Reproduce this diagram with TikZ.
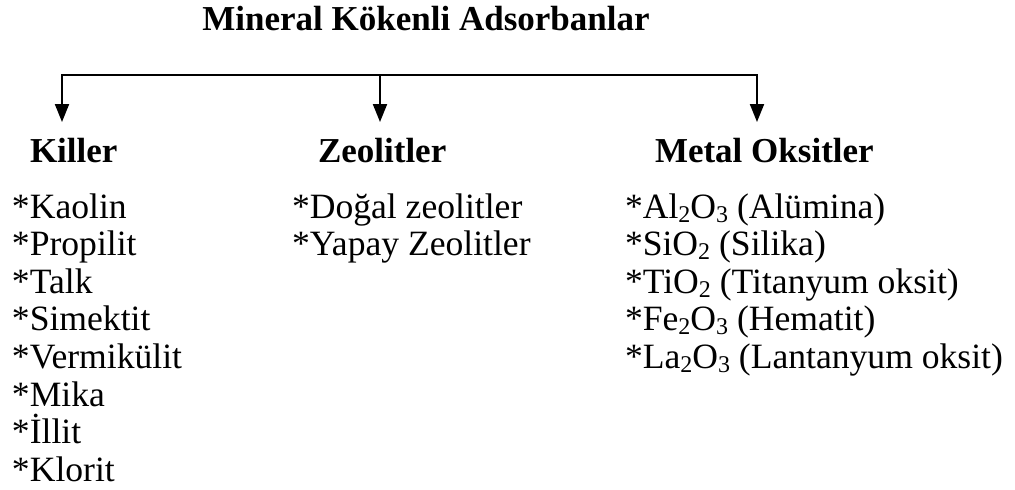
\documentclass[tikz,border=0pt]{standalone}
\usepackage{fontspec}
\setmainfont{Liberation Serif}
\usetikzlibrary{arrows.meta}
\newcommand{\subx}[1]{\raisebox{-4pt}{\fontsize{24}{24}\selectfont #1}}
\tikzset{
  txt/.style={inner sep=0pt, outer sep=0pt, anchor=base west, font=\fontsize{35.6}{38}\selectfont},
  head/.style={inner sep=0pt, outer sep=0pt, anchor=base west, font=\fontsize{35}{38}\selectfont\bfseries},
  bar/.style={line width=2pt, line cap=rect},
  arr/.style={line width=2pt, -{Triangle[width=14pt,length=18pt]}}
}
\begin{document}
\begin{tikzpicture}[x=1pt,y=-1pt]
\useasboundingbox (0,0) rectangle (1015,490);
% title
\node[inner sep=0pt, anchor=base, font=\fontsize{35}{38}\selectfont\bfseries] (title) at (426,30) {Mineral Kökenli Adsorbanlar};
% connector
\coordinate (b1) at (62,75);
\coordinate (b2) at (380,75);
\coordinate (b3) at (757,75);
\coordinate (t1) at (62,122);
\coordinate (t2) at (380,122);
\coordinate (t3) at (757,122);
\draw[bar] (b1) -- (b3);
\draw[arr] (b1) -- (t1);
\draw[arr] (b2) -- (t2);
\draw[arr] (b3) -- (t3);
% headings
\node[head] (killer) at (30,162) {Killer};
\node[head] (zeo) at (318,162) {Zeolitler};
\node[head] (metal) at (655,162) {Metal Oksitler};
% left column
\foreach \t [count=\i] in {Kaolin,Propilit,Talk,Simektit,Vermikülit,Mika,İllit,Klorit}
  \node[txt] (k\i) at (12,{218+37.6*(\i-1)}) {*\t};
% middle column
\node[txt] (z1) at (292,218) {*Doğal zeolitler};
\node[txt] (z2) at (292,255.6) {*Yapay Zeolitler};
% right column
\node[txt] (m1) at (625,218) {*Al\subx{2}O\subx{3} (Alümina)};
\node[txt] (m2) at (625,255.6) {*SiO\subx{2} (Silika)};
\node[txt] (m3) at (625,293.2) {*TiO\subx{2} (Titanyum oksit)};
\node[txt] (m4) at (625,330.8) {*Fe\subx{2}O\subx{3} (Hematit)};
\node[txt] (m5) at (625,368.4) {*La\subx{2}O\subx{3} (Lantanyum oksit)};
\end{tikzpicture}
\end{document}
